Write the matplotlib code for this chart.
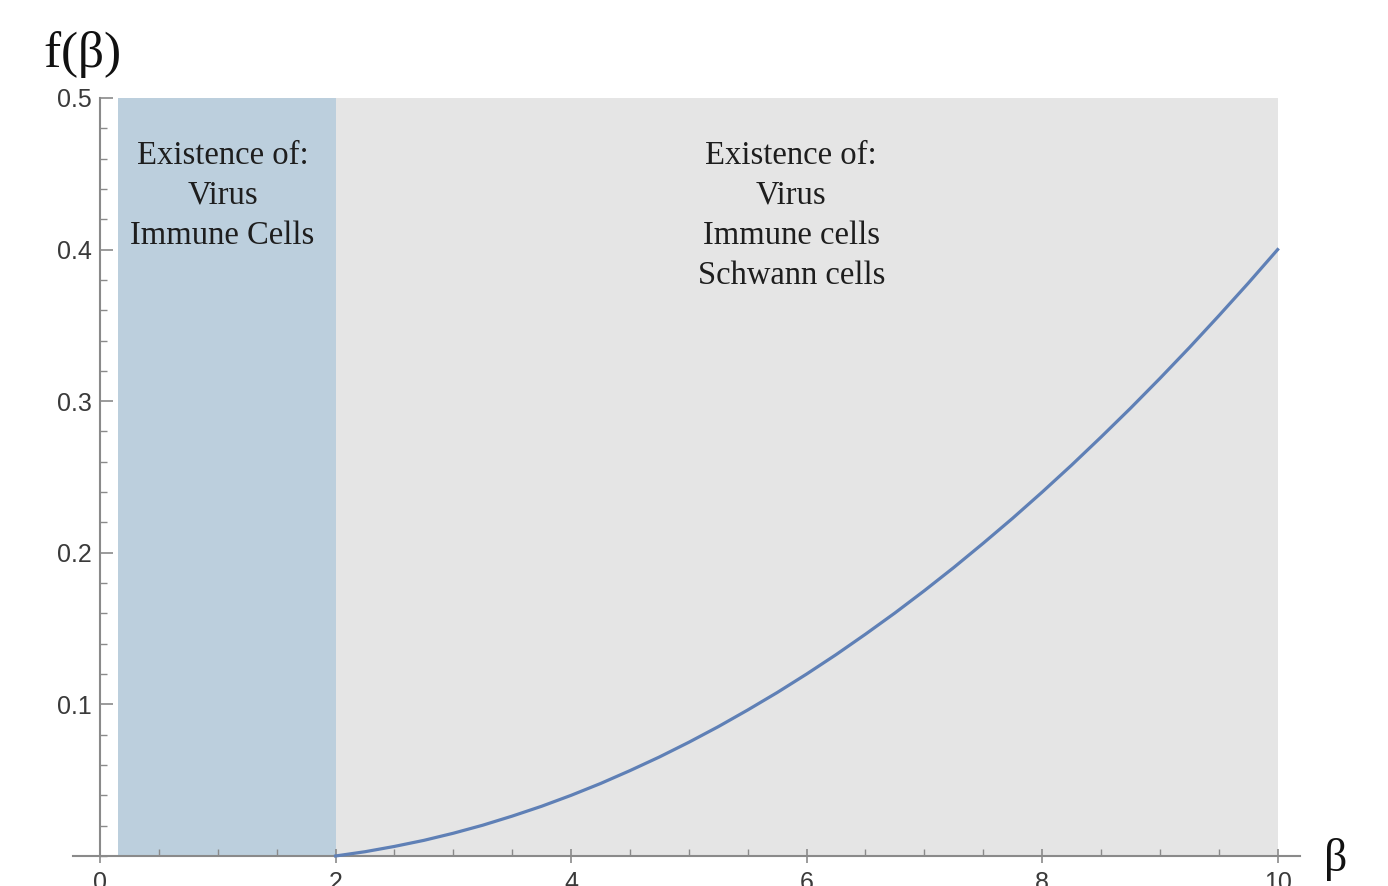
import matplotlib.pyplot as plt
from matplotlib.ticker import MultipleLocator

# f(beta) read at quarter-unit steps
beta = [2.0, 2.25, 2.5, 2.75, 3.0, 3.25, 3.5, 3.75, 4.0, 4.25, 4.5, 4.75, 5.0,
        5.25, 5.5, 5.75, 6.0, 6.25, 6.5, 6.75, 7.0, 7.25, 7.5, 7.75, 8.0,
        8.25, 8.5, 8.75, 9.0, 9.25, 9.5, 9.75, 10.0]
f_beta = [0.0, 0.0028, 0.0063, 0.0103, 0.0150, 0.0203, 0.0263, 0.0328, 0.0400,
          0.0478, 0.0563, 0.0653, 0.0750, 0.0853, 0.0963, 0.1078, 0.1200,
          0.1328, 0.1463, 0.1603, 0.1750, 0.1903, 0.2063, 0.2228, 0.2400,
          0.2578, 0.2763, 0.2953, 0.3150, 0.3353, 0.3563, 0.3778, 0.4000]

# regions
region1 = (0.15, 2.0)
region2 = (2.0, 10.0)
region1_text = "Existence of:\nVirus\nImmune Cells"
region2_text = "Existence of:\nVirus\nImmune cells\nSchwann cells"

xticks = [0, 2, 4, 6, 8, 10]
yticks = [0.1, 0.2, 0.3, 0.4, 0.5]

fig = plt.figure(figsize=(13.88, 8.86), dpi=100)
ax = fig.add_axes([0.0526, 0.0339, 0.9366 - 0.0526, 0.8894 - 0.0339])

ax.axvspan(*region1, ymin=0, ymax=1, color='#bccfdd', lw=0, zorder=0)
ax.axvspan(*region2, ymin=0, ymax=1, color='#e5e5e5', lw=0, zorder=0)

ax.plot(beta, f_beta, color='#5f80b6', lw=2.3, zorder=3, clip_on=False)

ax.set_xlim(-0.23, 10.19)
ax.set_ylim(0, 0.5)

# axes crossing at the origin
for s in ['top', 'right']:
    ax.spines[s].set_visible(False)
ax.spines['left'].set_position(('data', 0))
ax.spines['left'].set_color('#8a8a8a')
ax.spines['bottom'].set_color('#8a8a8a')
ax.spines['left'].set_linewidth(1.5)
ax.spines['bottom'].set_linewidth(1.5)

ax.set_xticks(xticks)
ax.set_yticks(yticks)
ax.xaxis.set_minor_locator(MultipleLocator(0.5))
ax.yaxis.set_minor_locator(MultipleLocator(0.02))
ax.set_xticklabels([str(t) for t in xticks])
ax.set_yticklabels([str(t) for t in yticks])
ax.tick_params(which='major', direction='in', length=9, width=1.2, color='#8a8a8a',
               labelsize=18, labelcolor='#3a3a3a')
ax.tick_params(which='minor', direction='in', length=5, width=1.0, color='#8a8a8a')
ax.tick_params(axis='x', which='major', pad=6, direction='inout', length=10)
ax.tick_params(axis='y', which='major', pad=6)
for lab in ax.get_xticklabels() + ax.get_yticklabels():
    lab.set_family('Liberation Sans')

ax.text(1.04, 0.472, region1_text, ha='center', va='top', fontsize=23.5,
        family='Liberation Serif', color='#1e1e1e', linespacing=1.4)
ax.text(5.87, 0.472, region2_text, ha='center', va='top', fontsize=23.5,
        family='Liberation Serif', color='#1e1e1e', linespacing=1.4)

fig.text(0.059, 0.939, r'f($\mathregular{\beta}$)', ha='center', va='center',
         fontsize=37, family='Liberation Serif', color='#111111')
fig.text(0.962, 0.03, 'β', ha='center', va='center', fontsize=33,
         family='Liberation Serif', color='#111111')

fig.savefig('out.png', dpi=100)
